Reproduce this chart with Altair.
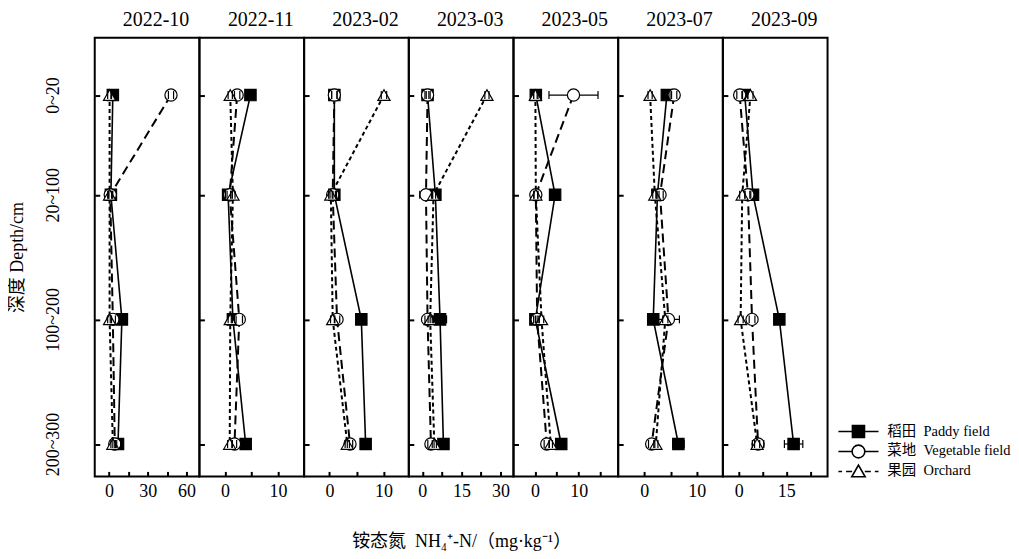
import altair as alt
import pandas as pd

# ---------------- data ----------------
months = ["2022-10", "2022-11", "2023-02", "2023-03", "2023-05", "2023-07", "2023-09"]
depth_labels = ["0~20", "20~100", "100~200", "200~300"]
depth_cm = [20, 100, 200, 300]
series_keys = ["paddy", "vegetable", "orchard"]
series_labels = ["稻田\u00a0\u00a0Paddy field", "菜地\u00a0\u00a0Vegetable field", "果园\u00a0\u00a0Orchard"]

paddy = {
    "2022-10": [3.0, 1.5, 10.0, 7.0],
    "2022-11": [4.8, 0.6, 1.5, 3.9],
    "2023-02": [0.9, 0.9, 5.9, 6.7],
    "2023-03": [2.0, 5.0, 6.8, 8.1],
    "2023-05": [0.2, 4.6, 0.1, 6.0],
    "2023-07": [4.3, 2.5, 1.7, 6.5],
    "2023-09": [1.9, 4.5, 12.8, 17.3],
}
paddy_err = {
    "2022-10": [1.5, 1.5, 1.5, 2.0],
    "2022-11": [0.3, 0.5, 0.3, 0.4],
    "2023-02": [0.5, 0.4, 0.3, 0.3],
    "2023-03": [0.5, 1.0, 2.5, 1.0],
    "2023-05": [0.5, 0.3, 0.4, 0.5],
    "2023-07": [0.6, 0.3, 0.4, 1.1],
    "2023-09": [0.9, 1.0, 0.5, 2.9],
}
vegetable = {
    "2022-10": [48.0, 1.0, 3.0, 4.5],
    "2022-11": [2.3, 0.9, 2.7, 1.8],
    "2023-02": [0.9, 0.6, 1.4, 3.8],
    "2023-03": [2.0, 1.4, 2.0, 3.3],
    "2023-05": [8.8, 0.2, 0.5, 2.7],
    "2023-07": [5.7, 3.0, 4.6, 1.4],
    "2023-09": [0.3, 2.9, 4.2, 6.1],
}
vegetable_err = {
    "2022-10": [2.0, 1.5, 2.0, 1.5],
    "2022-11": [0.5, 0.5, 0.6, 0.4],
    "2023-02": [0.5, 0.5, 0.5, 0.5],
    "2023-03": [1.0, 2.4, 1.0, 1.2],
    "2023-05": [5.6, 0.4, 0.4, 0.6],
    "2023-07": [0.5, 0.6, 2.1, 0.6],
    "2023-09": [0.9, 0.9, 0.9, 1.8],
}
orchard = {
    "2022-10": [0.5, 0.5, 0.5, 3.0],
    "2022-11": [1.0, 1.5, 1.0, 0.9],
    "2023-02": [10.1, 0.25, 0.6, 3.3],
    "2023-03": [24.8, 4.3, 3.0, 4.6],
    "2023-05": [0.1, 0.2, 1.5, 3.6],
    "2023-07": [1.1, 2.0, 4.0, 2.2],
    "2023-09": [3.7, 1.1, 0.6, 5.8],
}
orchard_err = {
    "2022-10": [1.5, 1.5, 1.5, 1.5],
    "2022-11": [0.4, 0.4, 0.4, 0.4],
    "2023-02": [0.5, 0.4, 0.4, 0.4],
    "2023-03": [0.8, 0.8, 0.8, 0.8],
    "2023-05": [0.4, 0.5, 0.5, 0.4],
    "2023-07": [0.4, 0.4, 0.5, 0.4],
    "2023-09": [0.8, 0.8, 0.8, 0.8],
}

# per-panel axis settings
x_domains = [[-11, 70], [-4.8, 14.9], [-4.7, 14.7], [-5.2, 35], [-4.9, 19], [-5, 15], [-5, 28]]
x_ticks = [[0, 15, 30, 45, 60], [0, 5, 10], [0, 5, 10], [0, 7.5, 15, 22.5, 30],
           [0, 5, 10, 15], [0, 5, 10], [0, 7.5, 15, 22.5]]
x_label_steps = [30, 10, 10, 15, 10, 10, 15]
y_domain = [-26, 326]

x_title = "铵态氮\u00a0\u00a0NH₄⁺-N/（mg·kg⁻¹）"
y_title = "深度 Depth/cm"

# ---------------- table ----------------
values = {"paddy": paddy, "vegetable": vegetable, "orchard": orchard}
errors = {"paddy": paddy_err, "vegetable": vegetable_err, "orchard": orchard_err}
rows = []
for m in months:
    for key, lab in zip(series_keys, series_labels):
        for d, v, e in zip(depth_cm, values[key][m], errors[key][m]):
            rows.append({"month": m, "series": key, "series_label": lab,
                         "depth": d, "value": v, "lo": v - e, "hi": v + e})
df = pd.DataFrame(rows)

SERIF = "'Liberation Serif'"
FONT = "'Liberation Serif', 'Noto Sans CJK SC'"

label_expr_y = " : ".join(
    f"datum.value == {d} ? '{l}'" for d, l in zip(depth_cm, depth_labels)
) + " : ''"

legend_paths = [
    "M-3,0H-0.9 M0.9,0H3 M-0.9,-0.9H0.9V0.9H-0.9Z",
    "M-3,0H-0.95 M0.95,0H3 M0.95,0A0.95,0.95 0 1,1 -0.95,0A0.95,0.95 0 1,1 0.95,0Z",
    "M-3,0H-2.45 M-1.85,0H-0.95 M0.95,0H1.85 M2.45,0H3 M0,-0.95L1,0.8H-1Z",
]

styles = {
    "paddy": dict(line=dict(strokeWidth=1.6), shape="square", fill="black", size=130),
    "vegetable": dict(line=dict(strokeWidth=2, strokeDash=[9, 5]), shape="circle", fill="white", size=150),
    "orchard": dict(line=dict(strokeWidth=2, strokeDash=[4, 3]), shape="triangle-up", fill="white", size=150),
}


def make_panel(i, month):
    xs = alt.Scale(domain=x_domains[i], nice=False, zero=False)
    ys = alt.Scale(domain=y_domain, reverse=True, nice=False, zero=False)
    step = x_label_steps[i]
    xkw = dict(values=x_ticks[i],
               labelExpr=f"abs(datum.value % {step}) < 0.001 ? datum.label : ''",
               offset=-5, tickSize=5, tickWidth=2, tickColor="black", domain=False, grid=False,
               labelFont=SERIF, labelFontSize=18, labelColor="black", labelPadding=6,
               labelFlush=False, labelOverlap=False)
    if i == 3:
        xkw.update(title=x_title, titleFont=FONT, titleFontSize=18, titleFontWeight="normal",
                   titleColor="black", titlePadding=32)
    else:
        xkw.update(title=None)
    ykw = dict(values=depth_cm, offset=-5, tickSize=5, tickWidth=2, tickColor="black",
               domain=False, grid=False)
    if i == 0:
        ykw.update(labelExpr=label_expr_y, labelFont=SERIF, labelFontSize=18, labelColor="black",
                   labelAngle=270, labelAlign="center", labelBaseline="bottom", labelPadding=32,
                   title=y_title, titleFont=FONT, titleFontSize=18, titleFontWeight="normal",
                   titleColor="black", titlePadding=18)
    else:
        ykw.update(labels=False, title=None)
    xaxis = alt.Axis(**xkw)
    yaxis = alt.Axis(**ykw)

    base = alt.Chart(df).transform_filter(f"datum.month == '{month}'")
    lines, rules, points, caps = [], [], [], []
    for s in series_keys:
        st = styles[s]
        b = base.transform_filter(f"datum.series == '{s}'")
        lines.append(b.mark_line(color="black", **st["line"]).encode(
            x=alt.X("value:Q", scale=xs, axis=xaxis),
            y=alt.Y("depth:Q", scale=ys, axis=yaxis),
            order=alt.Order("depth:Q")))
        rules.append(b.mark_rule(color="black", strokeWidth=1.2).encode(
            x=alt.X("lo:Q", scale=xs, axis=xaxis), x2="hi:Q",
            y=alt.Y("depth:Q", scale=ys, axis=yaxis)))
        points.append(b.mark_point(shape=st["shape"], filled=True, fill=st["fill"], stroke="black",
                                   strokeWidth=1.2, size=st["size"], opacity=1).encode(
            x=alt.X("value:Q", scale=xs, axis=xaxis),
            y=alt.Y("depth:Q", scale=ys, axis=yaxis)))
        for fld in ("lo", "hi"):
            caps.append(b.mark_tick(orient="vertical", size=8, thickness=1.2, color="black", opacity=1).encode(
                x=alt.X(f"{fld}:Q", scale=xs, axis=xaxis),
                y=alt.Y("depth:Q", scale=ys, axis=yaxis)))
    layers = lines + rules + points + caps
    if i == len(months) - 1:
        leg = alt.Legend(title=None, orient="none", legendX=758, legendY=387, padding=0,
                         labelFont=FONT, labelFontSize=14.5, labelColor="black", labelOffset=21,
                         rowPadding=0, symbolSize=180, symbolStrokeWidth=1.6)
        layers.append(base.transform_filter("false").mark_point(
            filled=True, stroke="black", strokeWidth=1.6, size=180, opacity=1).encode(
            x=alt.X("value:Q", scale=xs, axis=xaxis),
            y=alt.Y("depth:Q", scale=ys, axis=yaxis),
            shape=alt.Shape("series_label:N", scale=alt.Scale(domain=series_labels, range=legend_paths), legend=leg),
            fill=alt.Fill("series_label:N", scale=alt.Scale(domain=series_labels, range=["black", "white", "white"]), legend=leg)))
    return alt.layer(*layers).properties(
        width=105, height=440,
        title=alt.TitleParams(month, font=SERIF, fontSize=20, fontWeight="normal", color="black",
                              offset=8, dx=9, anchor="middle", frame="group"))


chart = alt.hconcat(*[make_panel(i, m) for i, m in enumerate(months)], spacing=0, bounds="flush").properties(
    padding={"left": 0, "top": 0, "right": 0, "bottom": 0}
).configure_view(stroke="black", strokeWidth=2)

chart.save("out.html", embed_options={"renderer": "svg", "actions": False})
